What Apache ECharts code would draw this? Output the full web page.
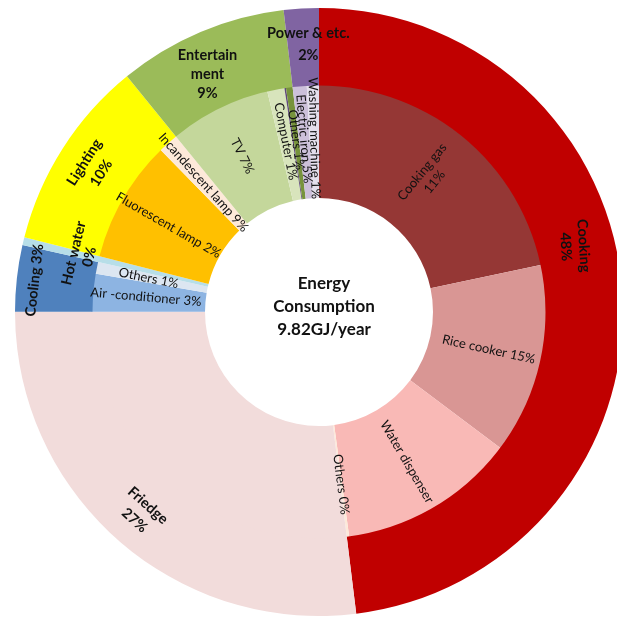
<!DOCTYPE html>
<html>
<head>
<meta charset="utf-8">
<script src="https://cdn.jsdelivr.net/npm/echarts@6/dist/echarts.min.js"></script>
<style>
html,body{margin:0;padding:0;background:#fff;}
#main{width:617px;height:620px;}
</style>
</head>
<body>
<div id="main"></div>
<script>
// Outer ring: main categories (share of total)
const outerNames = ['Cooking', 'Friedge', 'Cooling', 'Hot water', 'Lighting', 'Entertainment', 'Power & etc.'];
const outerShares = [48.04, 26.97, 3.52, 0.42, 10.16, 9.02, 1.86];
const outerLabels = ['Cooking\n48%', 'Friedge\n27%', 'Cooling 3%', 'Hot water\n0%', 'Lighting\n10%', 'Entertain\nment\n9%', 'Power & etc.\n2%'];
const outerColors = ['#C00000', '#F2DCDB', '#4F81BD', '#B7DEE8', '#FFFF00', '#9BBB59', '#8064A2'];

// Inner ring: sub categories
const innerNames = ['Cooking gas', 'Rice cooker', 'Water dispenser', 'Others (cooking)', 'Friedge', 'Air -conditioner', 'Others (cooling)', 'Hot water', 'Fluorescent lamp', 'Incandescent lamp', 'TV', 'Computer', 'Audio', 'Others (entertainment)', 'Electric iron', 'Washing machine'];
const innerShares = [21.67, 13.56, 12.64, 0.17, 26.97, 2.69, 0.83, 0.42, 8.72, 1.44, 7.22, 1.22, 0.11, 0.47, 1.00, 0.86];
const innerLabels = ['Cooking gas\n11%', 'Rice cooker 15%', 'Water dispenser', 'Others 0%', '', 'Air -conditioner 3%', 'Others 1%', '', 'Fluorescent lamp 2%', 'Incandescent lamp 9%', 'TV 7%', 'Computer 1%', '', 'Others 1%', 'Electric iron 5%', 'Washing machine 1%'];
const innerColors = ['#953735', '#D99694', '#F9B9B6', '#FDE9D9', '#F2DCDB', '#8DB4E2', '#DCE6F1', '#B7DEE8', '#FFC000', '#FDE9D9', '#C4D79B', '#D8E4BC', '#60497A', '#77933C', '#CCC0DA', '#E4DFEC'];

const centerTitle = 'Energy\nConsumption\n9.82GJ/year';

const FONT = 'Lato';
const CX = 319, CY = 312;

// label placement tweaks: horizontal padding in the label's rotated frame,
// blank spacer lines before/after the text, per-item line height
const outerLabelTweaks = {
  'Cooking': { padding: [0, 100, 0, 0], before: 1, after: 0, lineHeight: 18 },
  'Cooling': { before: 0, after: 2, lineHeight: 18 },
  'Hot water': { before: 3, after: 0, lineHeight: 16 },
  'Entertainment': { rotate: 0, padding: [0, 14, 0, 0], before: 1, after: 0, lineHeight: 19 },
  'Power & etc.': { rotate: 0, padding: [0, 0, 0, 10], before: 0, after: 0, lineHeight: 22 }
};

function spacer(n) { return n > 0 ? new Array(n).fill(' ').join('\n') : ''; }

const outerData = outerNames.map((n, i) => {
  const d = { name: n, value: outerShares[i], itemStyle: { color: outerColors[i] } };
  const t = outerLabelTweaks[n];
  if (t) {
    d.label = {};
    if (t.rotate !== undefined) d.label.rotate = t.rotate;
    if (t.padding) d.label.padding = t.padding;
    if (t.lineHeight) d.label.lineHeight = t.lineHeight;
  }
  return d;
});
const innerData = innerNames.map((n, i) => ({ name: n, value: innerShares[i], itemStyle: { color: innerColors[i] } }));

function outerText(i) {
  const t = outerLabelTweaks[outerNames[i]];
  let s = outerLabels[i];
  if (t) {
    if (t.before) s = spacer(t.before) + '\n' + s;
    if (t.after) s = s + '\n' + spacer(t.after);
  }
  return s;
}

const chart = echarts.init(document.getElementById('main'));
chart.setOption({
  animation: false,
  backgroundColor: '#ffffff',
  title: {
    text: centerTitle,
    left: CX,
    top: CY - 45,
    textAlign: 'center',
    textStyle: { fontFamily: FONT, fontWeight: 'bold', fontSize: 17, lineHeight: 23, color: '#111' }
  },
  series: [
    {
      type: 'pie',
      name: 'sub',
      center: [CX, CY],
      radius: [114, 227.5],
      startAngle: 90,
      clockwise: true,
      avoidLabelOverlap: false,
      silent: true,
      minShowLabelAngle: 0,
      labelLayout: { hideOverlap: false },
      itemStyle: { borderWidth: 0 },
      label: {
        show: true,
        position: 'inside',
        rotate: 'radial',
        fontFamily: FONT,
        fontSize: 13,
        lineHeight: 16,
        color: '#111',
        formatter: p => innerLabels[p.dataIndex]
      },
      labelLine: { show: false },
      data: innerData
    },
    {
      type: 'pie',
      name: 'main',
      center: [CX, CY],
      radius: [226.5, 304],
      startAngle: 90,
      clockwise: true,
      avoidLabelOverlap: false,
      silent: true,
      minShowLabelAngle: 0,
      labelLayout: { hideOverlap: false },
      itemStyle: { borderWidth: 0 },
      label: {
        show: true,
        position: 'inside',
        rotate: 'tangential',
        fontFamily: FONT,
        fontWeight: 'bold',
        fontSize: 14.5,
        lineHeight: 20,
        color: '#111',
        formatter: p => outerText(p.dataIndex)
      },
      labelLine: { show: false },
      data: outerData
    }
  ]
});
</script>
</body>
</html>
